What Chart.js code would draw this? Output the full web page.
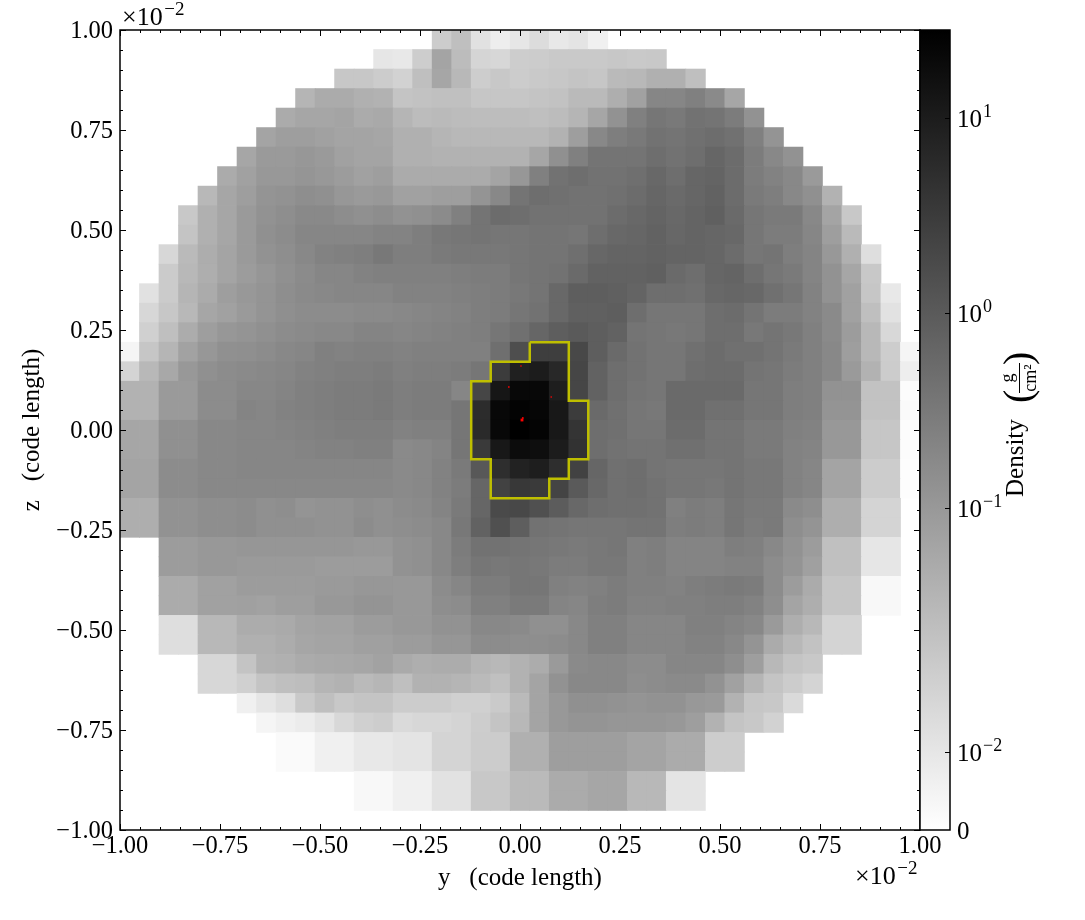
<!DOCTYPE html>
<html>
<head>
<meta charset="utf-8">
<title>Density slice</title>
<script src="https://cdn.jsdelivr.net/npm/chart.js@4"></script>
<style>
    html, body { margin: 0; padding: 0; background: #fff; }
    canvas { position: absolute; left: 0; top: 0; }
</style>
</head>
<body>
<canvas id="main-chart" width="1085" height="920"></canvas>
<canvas id="bar-chart" width="1085" height="920"></canvas>
<script>
const _ = null

// density cells, as grey level on the colour bar (255 = 0, 0 = max)
// rows go top to bottom, columns left to right, blank cells are null
const row00 = [_,_,_,_,_,_,_,_,_,_,_,_,_,_,_,_,198,185,225,238,230,220,232,228,240]
const row01 = [_,_,_,_,_,_,_,_,_,_,_,_,_,230,232,205,158,182,213,215,205,198,195,195,195,193,195,200]
const row02 = [_,_,_,_,_,_,_,_,_,_,_,193,193,204,210,185,160,178,205,200,198,195,193,190,192,180,178,170,170,185]
const row03 = [_,_,_,_,_,_,_,_,_,175,165,165,170,172,190,188,186,186,192,192,192,190,188,180,180,168,155,128,128,122,132,160]
const row04 = [_,_,_,_,_,_,_,_,165,160,160,158,165,163,175,182,180,182,183,183,183,185,182,175,160,140,122,112,115,108,110,118,140]
const row05 = [_,_,_,_,_,_,_,158,152,152,155,158,158,160,170,170,175,178,178,178,178,178,172,152,130,120,115,108,110,106,103,107,122,142]
const row06 = [_,_,_,_,_,_,160,148,148,145,148,155,158,158,170,170,172,172,172,172,172,160,138,122,110,110,110,104,108,104,96,102,118,130,140]
const row07 = [_,_,_,_,_,165,155,146,146,143,146,150,155,152,165,165,165,165,165,158,145,122,108,104,108,108,105,98,104,96,94,102,118,124,130,148]
const row08 = [_,_,_,_,178,160,152,142,140,136,138,145,148,146,155,155,152,152,142,130,110,104,106,108,108,106,102,96,100,96,92,102,116,120,130,138,172]
const row09 = [_,_,_,200,170,160,148,140,136,131,131,135,138,135,140,138,133,122,110,102,104,108,108,108,108,102,98,94,98,94,90,100,112,116,116,130,158,200]
const row10 = [_,_,_,190,170,160,148,138,134,128,128,128,128,125,125,120,114,112,110,112,112,110,110,112,104,98,96,92,97,94,96,98,112,118,118,128,152,180]
const row11 = [_,_,215,180,167,158,148,140,136,130,124,122,120,114,120,120,116,114,114,114,112,110,110,105,97,94,94,92,94,94,96,102,112,110,120,126,146,170,222]
const row12 = [_,_,203,178,168,158,150,144,138,133,128,128,124,122,122,122,122,120,118,118,112,110,108,100,92,92,92,90,100,104,96,94,104,112,116,126,140,160,200]
const row13 = [_,225,197,175,165,152,146,142,136,132,130,128,128,128,124,124,124,122,120,118,114,110,98,88,88,90,94,104,104,106,98,96,98,106,112,124,140,155,192,232]
const row14 = [_,215,193,178,160,155,148,142,137,134,134,134,132,132,130,128,126,124,120,118,112,108,98,90,90,88,104,112,112,112,104,102,110,118,118,124,132,155,185,226]
const row15 = [_,208,185,166,152,145,142,138,134,132,130,130,126,126,128,126,124,122,120,112,106,96,88,84,88,92,110,112,114,112,104,104,114,110,114,122,132,150,178,216]
const row16 = [245,192,175,156,145,138,137,134,130,128,122,124,122,122,124,122,122,122,122,105,78,62,62,72,88,100,108,112,112,106,102,106,106,110,116,122,130,152,178,205,245]
const row17 = [212,178,162,146,138,134,132,130,128,124,122,120,120,118,122,120,120,118,112,60,32,28,40,70,92,104,108,112,112,104,102,102,110,112,118,122,130,148,172,198,238]
const row18 = [172,172,148,148,134,134,129,129,126,122,120,118,118,116,120,118,118,128,70,22,8,8,30,70,92,104,110,112,100,100,100,100,112,112,120,122,140,140,188,188,252]
const row19 = [172,172,148,148,134,134,126,128,124,122,120,118,118,116,120,118,118,112,44,8,3,6,24,60,100,106,112,114,100,100,106,106,112,112,120,122,142,142,188,188,250]
const row20 = [160,160,138,138,130,130,128,128,126,124,122,120,120,120,124,122,122,112,42,8,0,4,24,52,104,106,112,112,102,102,110,110,116,116,122,124,146,146,192,192,252]
const row21 = [160,160,138,138,130,130,128,128,128,126,124,124,122,122,132,130,126,112,58,24,12,14,28,50,104,108,110,110,106,106,110,110,116,116,124,126,146,146,192,192,252]
const row22 = [158,158,134,134,130,130,128,128,128,128,128,128,128,128,132,130,124,116,82,46,34,30,46,66,96,106,104,110,112,112,112,110,114,114,124,128,158,158,204,204,253]
const row23 = [158,158,134,134,130,130,130,130,130,130,130,130,130,130,132,130,124,118,96,66,56,58,68,84,98,106,104,108,112,112,114,110,114,114,124,128,158,158,204,204,253]
const row24 = [168,168,140,140,136,136,134,138,136,142,140,140,136,138,134,132,126,116,96,74,72,80,86,98,104,106,106,108,122,118,120,112,116,116,132,136,168,168,212,212]
const row25 = [168,168,140,140,136,136,134,138,138,138,140,140,134,138,136,134,130,114,92,80,88,108,110,112,112,112,110,110,120,118,120,112,118,116,136,142,168,168,212,212]
const row26 = [_,_,150,150,146,146,144,144,144,144,144,144,146,146,140,138,130,118,108,108,110,112,114,116,114,112,122,120,126,126,126,120,122,130,140,150,186,186,230,230]
const row27 = [_,_,150,150,146,146,148,148,148,148,150,150,150,150,140,138,130,120,112,114,112,114,118,118,114,114,122,120,126,126,126,124,124,134,142,154,186,186,230,230]
const row28 = [_,_,165,165,155,155,150,150,150,150,148,148,145,145,146,146,134,128,118,118,112,112,122,124,122,118,122,122,124,120,118,116,118,134,150,165,192,192,248,248]
const row29 = [_,_,165,165,155,155,154,156,152,152,146,146,142,142,146,146,136,134,122,122,116,116,126,128,120,118,124,124,122,122,120,120,124,136,158,168,192,192,248,248]
const row30 = [_,_,222,222,178,178,166,166,164,158,156,156,150,150,146,146,140,140,130,130,132,138,138,130,122,122,128,128,128,122,122,126,130,148,168,178,212,212]
const row31 = [_,_,222,222,178,178,170,170,166,160,158,158,154,154,150,150,144,144,134,134,136,136,134,130,122,122,128,128,128,124,124,130,142,165,178,188,212,212]
const row32 = [_,_,_,_,215,215,190,172,170,165,163,162,160,156,164,168,166,166,175,178,172,166,148,132,130,130,134,134,128,128,128,136,152,178,190,194]
const row33 = [_,_,_,_,215,215,208,190,185,183,175,172,180,176,185,172,172,175,180,186,172,158,140,130,130,130,136,134,132,132,140,155,175,190,198,212]
const row34 = [_,_,_,_,_,_,240,230,222,195,185,200,190,190,198,198,204,208,208,196,180,158,146,138,138,140,142,140,140,146,148,172,192,200,218]
const row35 = [_,_,_,_,_,_,_,245,240,236,228,216,208,205,218,215,215,212,205,190,178,158,146,142,142,144,144,144,146,152,172,190,200,210]
const row36 = [_,_,_,_,_,_,_,_,250,250,240,240,232,232,228,228,212,212,198,198,170,170,152,152,152,152,158,158,165,165,205,205]
const row37 = [_,_,_,_,_,_,_,_,250,250,240,240,232,232,228,228,212,212,198,198,170,170,152,152,152,152,158,158,165,165,205,205]
const row38 = [_,_,_,_,_,_,_,_,_,_,_,_,248,248,240,240,226,226,200,200,180,180,165,165,160,160,178,178,228,228]
const row39 = [_,_,_,_,_,_,_,_,_,_,_,_,248,248,240,240,226,226,200,200,180,180,165,165,160,160,178,178,228,228]
const row40 = []
const rows = [row00, row01, row02, row03, row04, row05, row06, row07, row08, row09,
    row10, row11, row12, row13, row14, row15, row16, row17, row18, row19,
    row20, row21, row22, row23, row24, row25, row26, row27, row28, row29,
    row30, row31, row32, row33, row34, row35, row36, row37, row38, row39, row40]

// yellow contour, in axis units (x 10^-2)
const contourY = [0.0244, 0.122, 0.122, 0.1707, 0.1707, 0.122, 0.122, 0.0732, 0.0732, -0.0732, -0.0732, -0.122, -0.122, -0.0732, -0.0732, 0.0244, 0.0244]
const contourZ = [0.2195, 0.2195, 0.0732, 0.0732, -0.0732, -0.0732, -0.122, -0.122, -0.1707, -0.1707, -0.0732, -0.0732, 0.122, 0.122, 0.1707, 0.1707, 0.2195]

// red particles
const particleY = [0.005, 0.007, 0.0025, -0.028, 0.078]
const particleZ = [0.025, 0.03, 0.16, 0.1075, 0.0825]
const particleSize = [2, 1.2, 0.9, 1.1, 0.9]

const majorTicks = [-1, -0.75, -0.5, -0.25, 0, 0.25, 0.5, 0.75, 1]
const minorTicks = [-0.95, -0.9, -0.85, -0.8, -0.7, -0.65, -0.6, -0.55, -0.45, -0.4, -0.35, -0.3, -0.2, -0.15, -0.1, -0.05,
    0.05, 0.1, 0.15, 0.2, 0.3, 0.35, 0.4, 0.45, 0.55, 0.6, 0.65, 0.7, 0.8, 0.85, 0.9, 0.95]

// colour bar ticks, position along the bar from bottom to top
const barTickBase = ['0', '10', '10', '10', '10']
const barTickExp = ['', '\u22122', '\u22121', '0', '1']
const barTickPos = [0, 0.0975, 0.4025, 0.646, 0.89]

const serif = '"Liberation Serif", serif'
const nCells = rows.length
const cellSize = 2 / nCells
// my reading of the mid greys came out a bit dark
const greyLift = 6

// build the floating bars
let cells = []
let cellColors = []
rows.forEach(function(row, j) {
    row.forEach(function(grey, i) {
        if (grey == null) return
        let top = 1 - j * cellSize
        let g = grey > 80 && grey < 200 ? grey + greyLift : grey
        cells.push({ x: -1 + (i + 0.5) * cellSize, y: [top - cellSize, top] })
        cellColors.push('rgb(' + g + ',' + g + ',' + g + ')')
    })
})

function tickLabel(value) {
    return value.toFixed(2).replace('-', '\u2212')
}

function timesTen(ctx, x, y) {
    ctx.font = '26px ' + serif
    ctx.fillText('\u00d710', x, y)
    let w = ctx.measureText('\u00d710').width
    ctx.font = '19px ' + serif
    ctx.fillText('\u22122', x + w + 1.5, y - 10)
}

// inward ticks on all four sides, frame and the multiplier labels
const frameTicks = {
    id: 'frameTicks',
    afterDatasetsDraw(chart) {
        const { ctx, chartArea: a, scales } = chart
        ctx.save()
        ctx.strokeStyle = '#000'
        ctx.lineWidth = 1
        ctx.beginPath()
        function mark(value, len) {
            let px = Math.round(scales.x.getPixelForValue(value)) + 0.5
            let py = Math.round(scales.y.getPixelForValue(value)) + 0.5
            ctx.moveTo(px, a.bottom); ctx.lineTo(px, a.bottom - len)
            ctx.moveTo(px, a.top); ctx.lineTo(px, a.top + len)
            ctx.moveTo(a.left, py); ctx.lineTo(a.left + len, py)
            ctx.moveTo(a.right, py); ctx.lineTo(a.right - len, py)
        }
        majorTicks.forEach(v => mark(v, 6))
        minorTicks.forEach(v => mark(v, 3))
        ctx.stroke()
        ctx.lineWidth = 1.5
        ctx.strokeRect(a.left, a.top, a.right - a.left, a.bottom - a.top)
        ctx.fillStyle = '#000'
        ctx.textAlign = 'left'
        ctx.textBaseline = 'alphabetic'
        timesTen(ctx, 122, 25)
        timesTen(ctx, 855, 884)
        ctx.restore()
    }
}

const mainChart = new Chart(document.getElementById('main-chart'), {
    type: 'bar',
    data: {
        datasets: [{
            type: 'scatter',
            data: particleY.map((y, i) => ({ x: y, y: particleZ[i] })),
            backgroundColor: '#ff0000',
            borderWidth: 0,
            pointStyle: 'rect',
            pointRadius: particleSize,
            order: 1
        }, {
            type: 'line',
            data: contourY.map((y, i) => ({ x: y, y: contourZ[i] })),
            borderColor: '#bfbf00',
            borderWidth: 2.5,
            pointRadius: 0,
            tension: 0,
            fill: false,
            order: 2
        }, {
            data: cells,
            backgroundColor: cellColors,
            borderWidth: 0,
            barThickness: 19.6,
            categoryPercentage: 1,
            barPercentage: 1,
            order: 3
        }]
    },
    options: {
        responsive: false,
        animation: false,
        devicePixelRatio: 1,
        layout: { padding: { left: 0, top: 30, right: 165, bottom: 0 } },
        plugins: { legend: { display: false }, tooltip: { enabled: false } },
        scales: {
            x: {
                type: 'linear',
                offset: false,
                min: -1,
                max: 1,
                grid: { display: false, offset: false, drawTicks: false },
                border: { display: false },
                afterBuildTicks: s => { s.ticks = majorTicks.map(v => ({ value: v })) },
                afterFit: s => { s.height = 90 },
                ticks: {
                    color: '#000',
                    padding: 2,
                    maxRotation: 0,
                    autoSkip: false,
                    font: { family: serif, size: 24.5 },
                    callback: tickLabel
                },
                title: {
                    display: true,
                    text: 'y   (code length)',
                    color: '#000',
                    font: { family: serif, size: 25 },
                    padding: { top: 0, bottom: 27 }
                }
            },
            y: {
                type: 'linear',
                min: -1,
                max: 1,
                grid: { display: false, drawTicks: false },
                border: { display: false },
                afterBuildTicks: s => { s.ticks = majorTicks.map(v => ({ value: v })) },
                afterFit: s => { s.width = 120 },
                ticks: {
                    color: '#000',
                    padding: 7,
                    labelOffset: 1.5,
                    autoSkip: false,
                    font: { family: serif, size: 24.5 },
                    callback: tickLabel
                },
                title: {
                    display: true,
                    text: 'z   (code length)',
                    color: '#000',
                    font: { family: serif, size: 25 },
                    padding: { top: 17, bottom: 0 }
                }
            }
        }
    },
    plugins: [frameTicks]
})

// outline, ticks, labels with raised exponents and rotated title of the colour bar
const barFrame = {
    id: 'barFrame',
    afterDraw(chart) {
        const { ctx, chartArea: a, scales } = chart
        ctx.save()
        ctx.strokeStyle = '#000'
        ctx.lineWidth = 1
        ctx.beginPath()
        barTickPos.slice(1).forEach(function(v) {
            let py = Math.round(scales.y.getPixelForValue(v)) + 0.5
            ctx.moveTo(a.right, py); ctx.lineTo(a.right - 5, py)
        })
        ctx.stroke()
        ctx.lineWidth = 1.5
        ctx.strokeRect(a.left, a.top, a.right - a.left, a.bottom - a.top)

        ctx.fillStyle = '#000'
        ctx.textAlign = 'left'
        ctx.textBaseline = 'alphabetic'
        barTickPos.forEach(function(v, i) {
            let py = scales.y.getPixelForValue(v) + 9
            ctx.font = '25px ' + serif
            ctx.fillText(barTickBase[i], 957, py)
            let w = ctx.measureText(barTickBase[i]).width
            ctx.font = '18px ' + serif
            ctx.fillText(barTickExp[i], 957 + w + 1, py - 10)
        })

        ctx.translate(1023, 497)
        ctx.rotate(-Math.PI / 2)
        ctx.font = '25px ' + serif
        ctx.fillText('Density', 0, 0)
        ctx.font = '40px ' + serif
        ctx.fillText('(', 94, 8)
        ctx.fillText(')', 132, 8)
        ctx.font = '18px ' + serif
        ctx.textAlign = 'center'
        ctx.fillText('g', 119, -10)
        ctx.fillText('cm\u00b2', 119, 13)
        ctx.fillRect(104, -4, 30, 1)
        ctx.restore()
    }
}

const barChart = new Chart(document.getElementById('bar-chart'), {
    type: 'bar',
    data: {
        labels: [''],
        datasets: [{
            data: [[0, 1]],
            borderWidth: 0,
            categoryPercentage: 1,
            barPercentage: 1,
            backgroundColor: function(c) {
                const a = c.chart.chartArea
                if (!a) return '#888'
                let grad = c.chart.ctx.createLinearGradient(0, a.bottom, 0, a.top)
                grad.addColorStop(0, '#ffffff')
                grad.addColorStop(1, '#000000')
                return grad
            }
        }]
    },
    options: {
        responsive: false,
        animation: false,
        devicePixelRatio: 1,
        layout: { padding: { left: 920, top: 30, right: 0, bottom: 90 } },
        plugins: { legend: { display: false }, tooltip: { enabled: false } },
        scales: {
            x: { display: false },
            y: {
                position: 'right',
                min: 0,
                max: 1,
                grid: { display: false, drawTicks: false },
                border: { display: false },
                afterBuildTicks: s => { s.ticks = barTickPos.map(v => ({ value: v })) },
                afterFit: s => { s.width = 135 },
                ticks: { display: false }
            }
        }
    },
    plugins: [barFrame]
})
</script>
</body>
</html>
